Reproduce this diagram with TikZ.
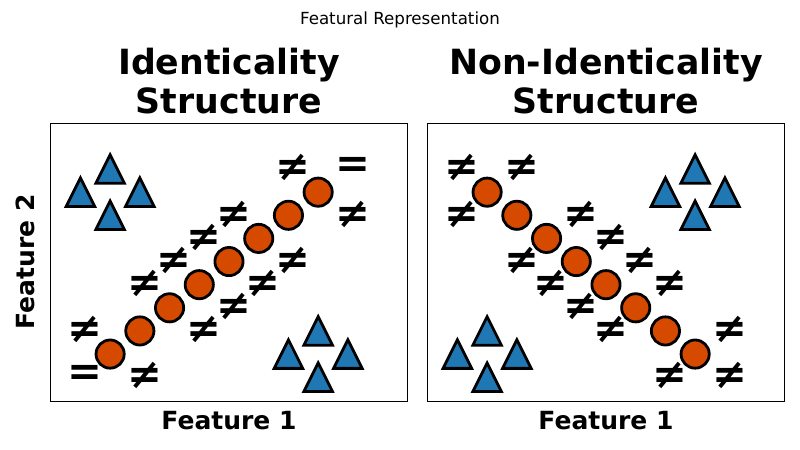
\documentclass[tikz,border=0pt]{standalone}
\usepackage{fontspec}
\setmainfont{DejaVu Sans}
\definecolor{dotfill}{HTML}{D64A00}
\definecolor{trifill}{HTML}{1F77B4}
\tikzset{
 dot/.style={circle, draw=black, fill=dotfill, line width=2pt, minimum size=20.3pt, inner sep=0pt},
 tri/.style={draw=black, fill=trifill, line width=2pt, line join=miter},
 sym/.style={font=\fontsize{30}{30}\selectfont\bfseries, inner sep=0pt, xshift=3.4pt, yshift=0.9pt},
 frame/.style={draw=black, line width=0.8pt},
 ptitle/.style={font=\fontsize{25}{29}\selectfont\bfseries, anchor=base, inner sep=0pt},
 axlabel/.style={font=\fontsize{18}{20}\selectfont\bfseries, anchor=base, inner sep=0pt},
}
\newcommand\mytri[2]{\draw[tri] (#1,#2) ++(0pt,10.3pt) -- ++(-10.3pt,-20.6pt) -- ++(20.6pt,0pt) -- cycle;}
\begin{document}
\begin{tikzpicture}[x=0.72pt,y=-0.72pt]
\useasboundingbox (0,0) rectangle (800,450);
\node[font=\fontsize{12}{14}\selectfont, anchor=base, inner sep=0pt] (sup) at (400,24.3) {Featural Representation};
\draw[frame] (50.7,123.3) rectangle (407.3,401.7);
\draw[frame] (427.7,123.3) rectangle (784.3,401.7);
\node[ptitle] (t1a) at (229,74.5) {Identicality};
\node[ptitle] (t1b) at (229,113) {Structure};
\node[ptitle] (t2a) at (606,74.5) {Non-Identicality};
\node[ptitle] (t2b) at (606,113) {Structure};
\node[axlabel] (x1) at (229,429.5) {Feature 1};
\node[axlabel] (x2) at (606,429.5) {Feature 1};
\node[axlabel, rotate=90] (y1) at (34,262) {Feature 2};
% panel 1
\begin{scope}[shift={(80.4,377.2)}, x=21.398pt, y=16.654pt]
 \foreach \i in {1,...,8} \node[dot] (a\i) at (\i,\i) {};
 \mytri{0}{8}\mytri{1}{9}\mytri{2}{8}\mytri{1}{7}
 \mytri{7}{1}\mytri{8}{2}\mytri{9}{1}\mytri{8}{0}
 \foreach \p/\q [count=\k] in {0/0,9/9} \node[sym] (e1\k) at (\p,\q) {=};
 \foreach \p/\q [count=\k] in {0/2,2/0,7/9,9/7,2/4,3/5,4/6,5/7,4/2,5/3,6/4,7/5} \node[sym] (n1\k) at (\p,\q) {≠};
\end{scope}
% panel 2
\begin{scope}[shift={(457.4,377.2)}, x=21.398pt, y=16.654pt]
 \foreach \i in {1,...,8} \node[dot] (b\i) at (\i,9-\i) {};
 \mytri{7}{8}\mytri{8}{9}\mytri{9}{8}\mytri{8}{7}
 \mytri{0}{1}\mytri{1}{2}\mytri{2}{1}\mytri{1}{0}
 \foreach \p/\q [count=\k] in {0/9,2/9,0/7,9/2,7/0,9/0,4/7,5/6,6/5,7/4,2/5,3/4,4/3,5/2} \node[sym] (n2\k) at (\p,\q) {≠};
\end{scope}
\end{tikzpicture}
\end{document}
